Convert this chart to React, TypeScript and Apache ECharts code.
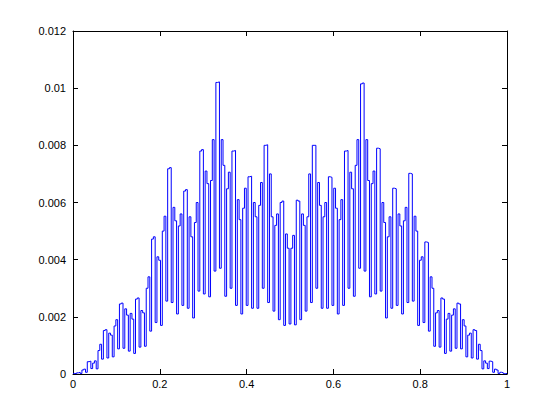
import React, { useEffect, useRef } from "react";
import * as echarts from "echarts";

// Bin values (243 equal bins over [0, 1]), left half: bins 0..121
const leftHalfValues = [
  0.00002, 0.00001, 0.00004, 0.00006, 0.00002, 0.00014, 0.00017, 0.00006, 0.00043,
  0.00045, 0.00019, 0.00038, 0.00046, 0.00018, 0.00082, 0.00104, 0.00052, 0.00152,
  0.00155, 0.00056, 0.00143, 0.00136, 0.0006, 0.00168, 0.0019, 0.00088, 0.00245,
  0.00248, 0.0009, 0.00228, 0.00206, 0.0008, 0.00212, 0.00192, 0.00072, 0.00262,
  0.00266, 0.00094, 0.00222, 0.00214, 0.00097, 0.003, 0.0034, 0.0015, 0.00472,
  0.0048, 0.0018, 0.0041, 0.00398, 0.0017, 0.005, 0.00552, 0.00255, 0.00718,
  0.00722, 0.0025, 0.00583, 0.00536, 0.0021, 0.00518, 0.0056, 0.0024, 0.0064,
  0.00645, 0.0023, 0.0055, 0.0048, 0.00196, 0.0053, 0.006, 0.0029, 0.0078,
  0.00785, 0.0028, 0.0071, 0.00666, 0.0027, 0.00677, 0.0082, 0.0036, 0.0102,
  0.01022, 0.0037, 0.0082, 0.0073, 0.00272, 0.00648, 0.00706, 0.003, 0.0078,
  0.00782, 0.0024, 0.0061, 0.0054, 0.0021, 0.0058, 0.0065, 0.0024, 0.0069,
  0.00692, 0.0023, 0.006, 0.0055, 0.0023, 0.0059, 0.0067, 0.003, 0.008,
  0.00802, 0.0025, 0.007, 0.0055, 0.0022, 0.0052, 0.0056, 0.0019, 0.006,
  0.00605, 0.0017, 0.0049, 0.0044, 0.00175,
];

// Right half: bins 122..242
const rightHalfValues = [
  0.0044, 0.00485, 0.00172, 0.00608, 0.00605, 0.0019, 0.0056, 0.0052, 0.0022,
  0.0055, 0.007, 0.0025, 0.008, 0.008, 0.003, 0.0067, 0.0059, 0.0023,
  0.0055, 0.006, 0.0023, 0.0069, 0.00688, 0.0024, 0.0065, 0.0058, 0.0021,
  0.0054, 0.0061, 0.0024, 0.0078, 0.00782, 0.003, 0.00706, 0.00648, 0.00272,
  0.0073, 0.0082, 0.0037, 0.01015, 0.01018, 0.0036, 0.0082, 0.00677, 0.0027,
  0.00666, 0.0071, 0.0028, 0.0079, 0.00788, 0.0029, 0.006, 0.0053, 0.00196,
  0.0048, 0.0055, 0.0023, 0.0065, 0.00648, 0.0024, 0.0056, 0.00518, 0.0021,
  0.00536, 0.00583, 0.0025, 0.00702, 0.007, 0.00255, 0.00552, 0.005, 0.0017,
  0.00398, 0.0041, 0.0018, 0.00462, 0.0046, 0.0015, 0.0034, 0.003, 0.00097,
  0.00214, 0.00222, 0.00094, 0.00266, 0.00262, 0.00072, 0.00192, 0.00212, 0.0008,
  0.00206, 0.00228, 0.0009, 0.00248, 0.00245, 0.00088, 0.0019, 0.00168, 0.0006,
  0.00136, 0.00143, 0.00056, 0.00155, 0.00152, 0.00052, 0.00104, 0.00082, 0.00018,
  0.00046, 0.00038, 0.00019, 0.00045, 0.00043, 0.00006, 0.00017, 0.00014, 0.00002,
  0.00006, 0.00004, 0.00001, 0.00002,
];

const xTickValues = [0, 0.2, 0.4, 0.6, 0.8, 1];
const yTickValues = [0, 0.002, 0.004, 0.006, 0.008, 0.01, 0.012];

const FONT = "'Liberation Sans', Arial, Helvetica, sans-serif";

export default function App() {
  const ref = useRef<HTMLDivElement>(null);

  useEffect(() => {
    if (!ref.current) return;
    const chart = echarts.init(ref.current, undefined, { renderer: "svg" });

    const values = [...leftHalfValues, ...rightHalfValues];
    const n = values.length;
    const data: number[][] = values.map((v, i) => [i / n, v]);
    data.push([1, values[n - 1]]);

    const xMin = xTickValues[0];
    const xMax = xTickValues[xTickValues.length - 1];
    const xInt = xTickValues[1] - xTickValues[0];
    const yMin = yTickValues[0];
    const yMax = yTickValues[yTickValues.length - 1];
    const yInt = yTickValues[1] - yTickValues[0];

    const lineStyle = { color: "#000", width: 1 };
    const baseX = {
      type: "value" as const,
      min: xMin,
      max: xMax,
      interval: xInt,
      axisLine: { show: true, onZero: false, lineStyle },
      axisTick: { show: true, inside: true, length: 5, lineStyle },
      splitLine: { show: false },
    };
    const baseY = {
      type: "value" as const,
      min: yMin,
      max: yMax,
      interval: yInt,
      axisLine: { show: true, onZero: false, lineStyle },
      axisTick: { show: true, inside: true, length: 5, lineStyle },
      splitLine: { show: false },
    };

    chart.setOption({
      animation: false,
      backgroundColor: "#ffffff",
      grid: { left: 73, right: 53, top: 31, bottom: 46, outerBoundsMode: "none" },
      xAxis: [
        {
          ...baseX,
          position: "bottom",
          axisLabel: {
            color: "#000",
            fontSize: 11,
            fontFamily: FONT,
            margin: 4,
            formatter: (v: number) => String(+v.toFixed(4)),
          },
        },
        { ...baseX, position: "top", axisLabel: { show: false } },
      ],
      yAxis: [
        {
          ...baseY,
          position: "left",
          axisLabel: {
            color: "#000",
            fontSize: 11,
            fontFamily: FONT,
            margin: 7,
            formatter: (v: number) => String(+v.toFixed(4)),
          },
        },
        { ...baseY, position: "right", axisLabel: { show: false } },
      ],
      series: [
        {
          type: "line",
          step: "end",
          data,
          xAxisIndex: 0,
          yAxisIndex: 0,
          symbol: "none",
          showSymbol: false,
          silent: true,
          lineStyle: { color: "#0000ff", width: 1 },
        },
      ],
    });

    return () => chart.dispose();
  }, []);

  return (
    <div
      ref={ref}
      style={{ position: "fixed", left: 0, top: 0, width: 560, height: 420, background: "#fff" }}
    />
  );
}
